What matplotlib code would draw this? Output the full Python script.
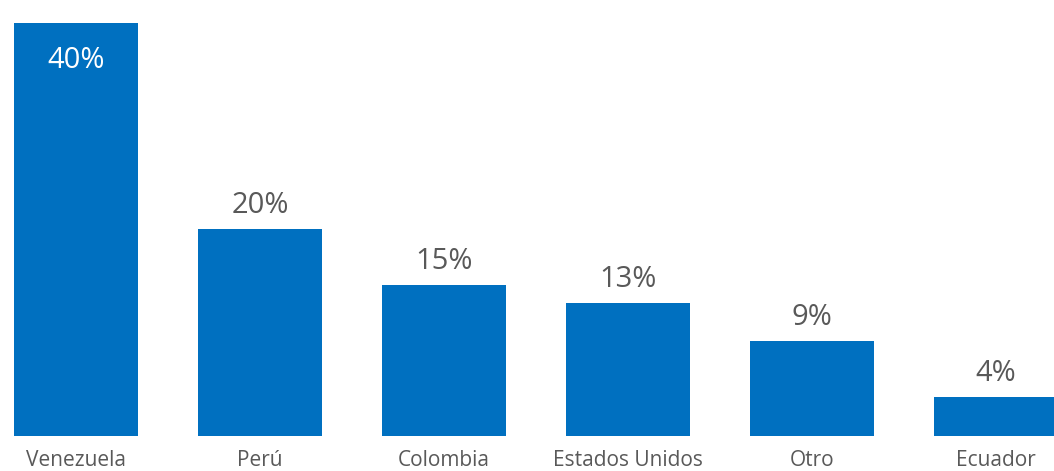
import matplotlib
matplotlib.use("Agg")
import matplotlib.pyplot as plt

# datos
paises = ["Venezuela", "Perú", "Colombia", "Estados Unidos", "Otro", "Ecuador"]
valores = [40, 20, 14.6, 12.9, 9.2, 3.8]
etiquetas = ["40%", "20%", "15%", "13%", "9%", "4%"]

plt.rcParams['font.family'] = ['Open Sans', 'DejaVu Sans']

fig = plt.figure(figsize=(10.54, 4.71), dpi=100)
ax = fig.add_axes([0, 1 - 436 / 471, 1, (436 - 23) / 471])

x = list(range(len(paises)))
ax.bar(x, valores, width=124 / 184, color="#0070C0")

for i, (v, t) in enumerate(zip(valores, etiquetas)):
    if i == 0:
        ax.text(i, v - 3.6, t, ha="center", va="center", fontsize=21,
                color="white")
    else:
        ax.text(i, v + 2.3, t, ha="center", va="center", fontsize=21,
                color="#595959")

ax.set_xlim(-76 / 184, (1054 - 76) / 184)
ax.set_ylim(0, 40)
ax.set_xticks(x)
ax.set_xticklabels(paises, fontsize=15, color="#595959")
ax.tick_params(axis="x", length=0, pad=10)
ax.set_yticks([])
for s in ax.spines.values():
    s.set_visible(False)

fig.savefig("out.png", dpi=100)
